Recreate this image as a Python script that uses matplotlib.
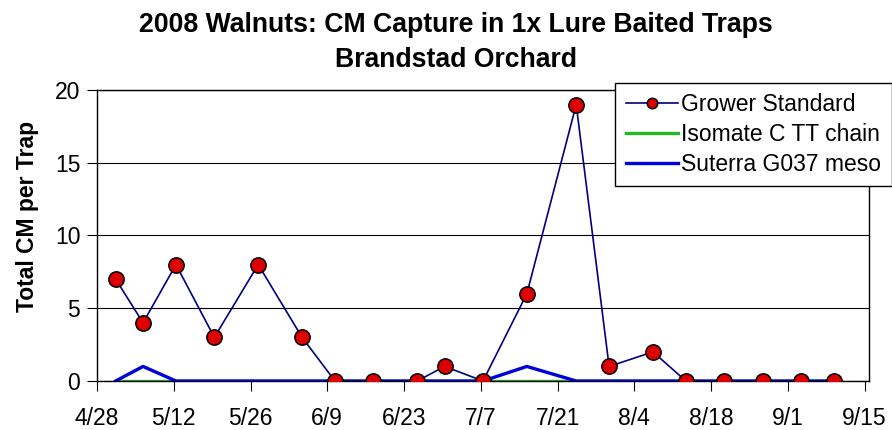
from datetime import date, timedelta

import matplotlib
matplotlib.use("Agg")
import matplotlib.pyplot as plt
import matplotlib.dates as mdates

plt.rcParams["font.family"] = ["Liberation Sans", "DejaVu Sans"]

# --- data ---
trap_dates = ["5/1", "5/6", "5/12", "5/19", "5/27", "6/4", "6/10", "6/17",
              "6/25", "6/30", "7/7", "7/15", "7/24", "7/30", "8/7", "8/13",
              "8/20", "8/27", "9/3", "9/9"]
grower_standard = [7, 4, 8, 3, 8, 3, 0, 0, 0, 1, 0, 6, 19, 1, 2, 0, 0, 0, 0, 0]
isomate_chain = [0] * 20
suterra_meso = [0, 1, 0, 0, 0, 0, 0, 0, 0, 0, 0, 1, 0, 0, 0, 0, 0, 0, 0, 0]

series_names = ["Grower Standard", "Isomate C TT chain", "Suterra G037 meso"]
y_ticks = [0, 5, 10, 15, 20]

YEAR = 2008
axis_start = date(YEAR, 4, 28)
axis_end = date(YEAR, 9, 15)

FS = 16.5


def to_date(s):
    m, d = s.split("/")
    return date(YEAR, int(m), int(d))


# Excel date axis: each point sits in the middle of its day
x = [mdates.date2num(to_date(s)) + 0.4 for s in trap_dates]

fig = plt.figure(figsize=(8.92, 4.30), dpi=100)
ax = fig.add_axes([97 / 892, 1 - 381 / 430, (869 - 97) / 892, (381 - 90) / 430])

ax.plot(x, grower_standard, color="#000080", lw=1.2, marker="o",
        markersize=11, markerfacecolor="#DD0000", markeredgecolor="black",
        markeredgewidth=1.1, label=series_names[0], zorder=4)
ax.plot(x, isomate_chain, color="#22BB22", lw=2.4, label=series_names[1],
        zorder=2)
ax.plot(x, suterra_meso, color="#0000DD", lw=2.4, label=series_names[2],
        zorder=3)

# x axis: ticks every two weeks
ticks = []
d = axis_start
while d <= axis_end:
    ticks.append(d)
    d += timedelta(days=14)
ax.set_xticks([mdates.date2num(t) for t in ticks])
ax.set_xticklabels([f"{t.month}/{t.day}" for t in ticks])
ax.set_xlim(mdates.date2num(axis_start), mdates.date2num(axis_end) + 0.8)

ax.set_ylim(0, 20)
ax.set_yticks(y_ticks)
ax.yaxis.grid(True, color="black", lw=0.8)
ax.set_axisbelow(True)

ax.tick_params(axis="x", direction="out", length=7, width=0.8,
               labelsize=FS, pad=11.5)
ax.tick_params(axis="y", direction="out", length=7, width=0.8,
               labelsize=FS, pad=5)
for sp in ax.spines.values():
    sp.set_color("black")
    sp.set_linewidth(1.0)

# titles
fig.text(456 / 892, 1 - 32 / 430, "2008 Walnuts: CM Capture in 1x Lure Baited Traps",
         ha="center", va="baseline", fontsize=19.2, fontweight="bold")
fig.text(456 / 892, 1 - 67 / 430, "Brandstad Orchard",
         ha="center", va="baseline", fontsize=19.2, fontweight="bold")
fig.text(28 / 892, 1 - 216 / 430, "Total CM per Trap", rotation=90,
         ha="center", va="center", fontsize=FS, fontweight="bold")

leg = fig.legend(loc="upper right", bbox_to_anchor=(891.5 / 892, 1 - 82.5 / 430),
                 bbox_transform=fig.transFigure, fontsize=FS,
                 frameon=True, fancybox=False, framealpha=1,
                 edgecolor="black", borderaxespad=0, numpoints=1,
                 handlelength=2.3, handletextpad=0.12, labelspacing=0.3,
                 borderpad=0.45)
leg.get_frame().set_linewidth(1.0)
leg.legend_handles[0].set_markersize(7.5)
leg.set_zorder(10)

fig.savefig("out.png", dpi=100)
